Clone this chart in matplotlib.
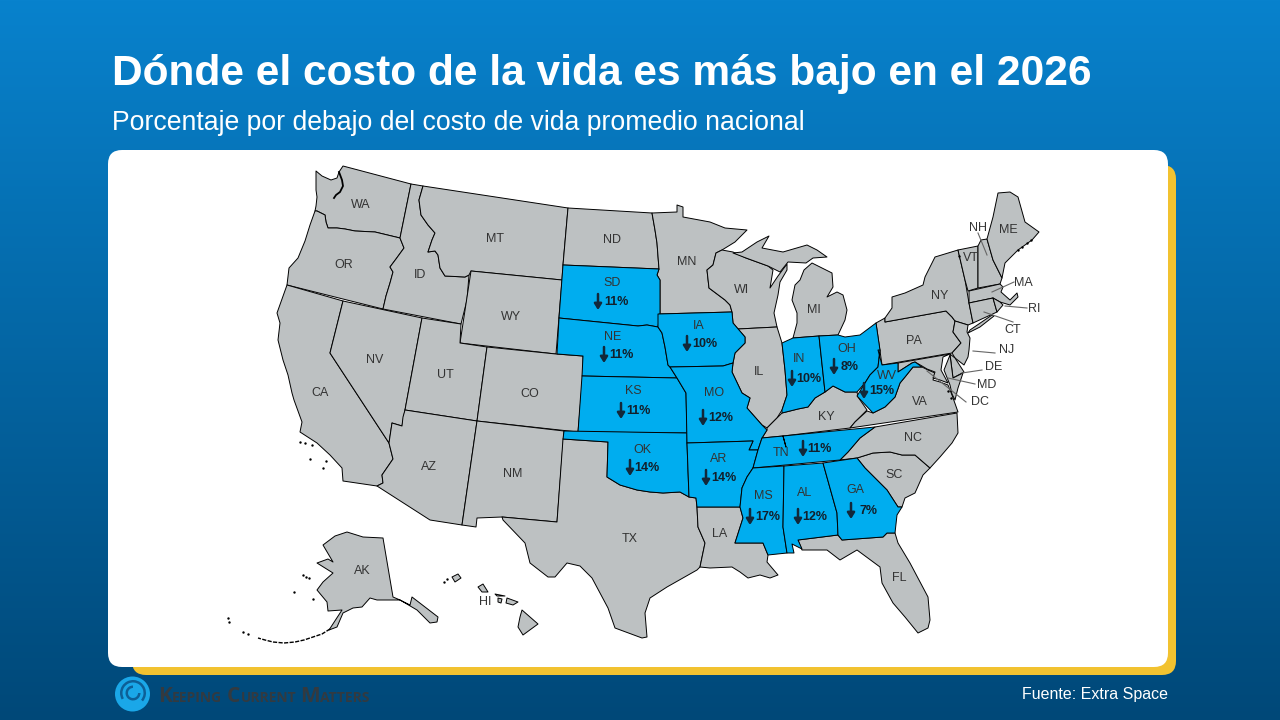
import matplotlib
matplotlib.use("Agg")
import matplotlib.pyplot as plt
import numpy as np
from matplotlib.patches import Circle, FancyBboxPatch, Polygon, Wedge

# state outlines, in picture pixels (no map data offline)
WA = [(316,171),(322,176),(331,180),(337,178),(339,172),(343,166),(411,184),(400,238),(375,232),(355,231),(345,229),(337,228),(328,228),(326,222),(325,215),(317,211),(315,211),(316,206),(317,197),(316,190)]
OR = [(315,211),(317,211),(325,215),(326,222),(328,228),(337,228),(345,229),(355,231),(375,232),(400,238),(404,248),(396,259),(390,267),(393,272),(390,283),(386,296),(383,309),(287,285),(289,268),(298,258),(305,241),(310,225)]
CA = [(287,285),(343,301),(330,353),(389,443),(393,459),(382,475),(383,483),(377,486),(343,481),(342,468),(330,455),(317,443),(300,432),(302,422),(294,400),(292,393),(288,375),(283,360),(278,340),(280,323),(277,313)]
NV = [(343,301),(422,318),(405,410),(402,426),(392,423),(389,443),(330,353)]
ID = [(411,184),(423,186),(419,200),(421,215),(428,225),(435,233),(432,240),(428,252),(435,251),(438,255),(440,268),(445,276),(465,277),(469,275),(467,300),(461,324),(383,309),(386,296),(390,283),(393,272),(390,267),(396,259),(404,248),(400,238)]
MT = [(423,186),(568,208),(563,265),(562,280),(471,271),(469,275),(465,277),(445,276),(440,268),(438,255),(435,251),(428,252),(432,240),(435,233),(428,225),(421,215),(419,200)]
WY = [(471,271),(562,280),(556,354),(460,343)]
UT = [(422,318),(461,324),(460,343),(487,347),(477,421),(405,410)]
CO = [(487,347),(556,354),(583,356),(583,375),(578,432),(477,421)]
AZ = [(405,410),(477,421),(462,525),(430,520),(377,486),(383,483),(382,475),(393,459),(389,443),(392,423),(402,426),(403,417)]
NM = [(477,421),(564,431),(557,522),(502,517),(477,518),(476,527),(462,525)]
ND = [(568,208),(652,213),(655,230),(657,243),(659,269),(563,265)]
SD = [(563,265),(659,269),(657,275),(660,280),(660,313),(658,327),(647,325),(638,326),(559,318)]
NE = [(559,318),(638,326),(647,325),(658,327),(662,333),(665,347),(668,365),(670,367),(677,378),(582,376),(583,356),(557,354)]
KS = [(582,376),(677,378),(686,393),(687,433),(578,432)]
OK = [(564,431),(687,433),(687,443),(689,497),(680,492),(663,493),(650,492),(637,490),(620,485),(607,477),(608,442),(563,439)]
TX = [(563,439),(608,442),(607,477),(620,485),(637,490),(650,492),(663,493),(680,492),(689,497),(696,498),(697,507),(698,527),(705,543),(700,567),(697,570),(667,587),(650,598),(645,613),(647,637),(642,638),(615,628),(608,608),(592,578),(580,566),(567,563),(555,577),(548,577),(530,563),(525,543),(503,520),(502,517),(557,522)]
MN = [(652,213),(677,212),(677,205),(683,207),(683,217),(710,222),(725,228),(747,230),(735,242),(722,250),(716,253),(713,265),(707,270),(709,288),(725,300),(730,305),(732,312),(658,314),(660,313),(660,280),(657,275),(659,269),(657,243),(655,230)]
IA = [(658,314),(732,312),(733,323),(745,337),(745,343),(735,353),(733,363),(723,366),(670,367),(668,365),(665,347),(662,333),(658,327)]
MO = [(670,367),(723,366),(733,363),(732,372),(742,393),(750,398),(747,408),(762,425),(767,430),(762,438),(758,450),(749,450),(753,441),(687,443),(686,393),(677,378)]
AR = [(687,443),(753,441),(749,450),(758,450),(753,468),(747,477),(742,488),(740,507),(697,507),(696,498),(689,497)]
LA = [(697,507),(740,507),(743,518),(735,543),(763,543),(768,555),(767,562),(778,575),(770,578),(760,575),(748,578),(740,572),(732,567),(710,568),(700,567),(705,543),(698,527)]
WI = [(716,253),(722,250),(733,252),(746,258),(768,266),(773,270),(770,288),(778,276),(787,264),(787,270),(780,282),(778,295),(774,313),(777,327),(738,329),(733,323),(732,312),(730,305),(725,300),(709,288),(707,270),(713,265)]
IL = [(738,329),(777,327),(782,343),(785,370),(787,395),(782,410),(777,418),(767,428),(762,425),(747,408),(750,398),(742,393),(732,372),(733,363),(735,353),(745,343),(745,337)]
MI_UP = [(733,253),(742,252),(757,242),(769,236),(762,248),(783,252),(807,245),(817,250),(827,257),(813,258),(806,263),(788,262),(780,272),(772,268),(768,266),(746,258)]
MI_LP = [(793,338),(797,323),(797,313),(792,300),(795,285),(800,280),(804,270),(812,263),(832,273),(833,287),(827,297),(837,292),(843,295),(847,310),(845,320),(838,335),(819,336)]
IN = [(782,343),(793,338),(819,336),(825,392),(815,398),(808,407),(798,409),(782,413),(782,410),(787,395),(785,370)]
OH = [(819,336),(838,335),(845,337),(860,335),(876,323),(880,350),(878,367),(870,375),(865,383),(857,392),(845,392),(833,386),(825,392)]
KY = [(767,428),(777,418),(782,413),(798,409),(808,407),(815,398),(825,392),(833,386),(845,392),(857,392),(858,397),(867,410),(855,422),(850,428),(783,436),(762,438),(767,430)]
TN = [(762,438),(783,436),(786,447),(783,436),(875,427),(860,438),(848,452),(840,460),(753,468),(758,450)]
MS = [(753,468),(784,466),(783,527),(787,553),(768,555),(763,543),(735,543),(743,518),(740,507),(742,488),(747,477)]
AL = [(784,466),(823,463),(837,513),(838,535),(798,540),(802,549),(792,544),(794,553),(787,553),(783,527)]
GA = [(823,463),(857,458),(865,468),(887,490),(898,507),(902,507),(897,515),(895,533),(887,533),(883,537),(842,540),(838,535),(837,513)]
FL = [(798,540),(838,535),(842,540),(883,537),(887,533),(895,533),(898,543),(910,563),(928,597),(930,620),(928,628),(918,633),(905,617),(893,603),(882,583),(880,567),(857,550),(840,560),(827,550),(813,550),(802,550)]
SC = [(857,458),(873,453),(890,452),(902,455),(915,455),(930,468),(923,475),(915,493),(905,498),(902,507),(898,507),(887,490),(865,468)]
NC = [(840,460),(848,452),(860,438),(875,427),(957,413),(958,433),(952,443),(940,457),(930,468),(915,455),(902,455),(890,452),(873,453),(857,458)]
VA = [(850,428),(855,422),(867,411),(873,413),(885,407),(895,397),(900,383),(905,377),(913,367),(922,367),(928,370),(935,373),(933,380),(940,382),(948,385),(952,395),(958,412)]
WV = [(878,350),(882,365),(898,363),(898,372),(912,363),(915,362),(922,367),(913,367),(905,377),(900,383),(895,397),(885,407),(873,413),(857,396),(865,383),(870,375),(878,367),(880,350)]
PA = [(876,323),(885,318),(885,322),(946,311),(952,317),(955,321),(953,332),(961,343),(952,353),(882,365)]
NY = [(885,318),(892,308),(892,297),(905,293),(923,285),(925,277),(935,257),(958,250),(965,280),(969,303),(973,323),(968,325),(955,321),(952,317),(946,311),(885,322)]
LONG_ISLAND = [(970,330),(992,315),(994,316),(980,327),(968,333)]
NJ = [(955,321),(968,325),(967,332),(970,338),(969,350),(968,357),(964,365),(955,358),(952,353),(961,343),(953,332)]
DE = [(950,354),(955,358),(964,372),(953,378)]
MD = [(898,363),(950,354),(943,357),(941,370),(948,383),(940,380),(933,378),(935,372),(927,369),(922,366),(915,362),(912,363),(898,372)]
MD_SHORE = [(950,355),(953,378),(963,373),(958,388),(955,400),(952,394),(950,385),(944,370)]
VT = [(958,250),(978,246),(978,288),(968,291),(965,280)]
NH = [(981,240),(987,239),(993,260),(1002,278),(1000,284),(978,288),(978,246)]
ME = [(987,239),(993,217),(998,193),(1010,192),(1018,197),(1025,222),(1039,232),(1032,240),(1018,250),(1005,263),(1002,278),(993,260)]
MA = [(969,291),(1000,284),(1003,287),(1001,292),(1010,300),(1017,293),(1018,297),(1010,305),(1000,302),(993,298),(969,303)]
CT = [(969,303),(993,298),(997,312),(973,323)]
RI = [(993,298),(1000,302),(1003,305),(997,312)]
AK = [(383,538),(393,597),(400,600),(410,605),(412,597),(438,617),(437,622),(430,623),(417,610),(400,600),(388,600),(377,600),(370,598),(362,607),(353,608),(343,613),(337,627),(329,630),(342,610),(328,611),(327,602),(317,590),(323,582),(333,573),(317,563),(328,559),(333,562),(323,545),(335,536),(347,532),(363,537)]
HI_1 = [(522,610),(538,624),(523,635),(518,627),(520,617)]
HI_2 = [(507,598),(518,602),(513,605),(506,603)]
HI_3 = [(495,594),(505,596),(497,596)]
HI_4 = [(478,587),(483,584),(488,592),(482,592)]
HI_5 = [(452,577),(458,574),(461,578),(455,582)]
HI_6 = [(498,598),(502,599),(501,603),(498,602)]

# thin chains and specks along the coasts
aleutians_x = [330, 322, 313, 304, 295, 284, 273, 265, 258]
aleutians_y = [629, 634, 637, 640, 642, 643, 642, 640, 638]
puget_x = [339, 342, 343, 340, 336, 334]
puget_y = [172, 180, 186, 192, 195, 198]
specks_x = [228, 229, 243, 248, 300, 305, 312, 310, 326, 323, 303, 306, 309, 313, 294, 1018, 1022, 1027, 1031, 959, 948, 951, 444, 447]
specks_y = [618, 622, 632, 634, 442, 443, 445, 459, 461, 468, 575, 577, 578, 599, 592, 250, 247, 243, 240, 256, 391, 398, 582, 579]

state_names = ["WA", "OR", "CA", "NV", "ID", "MT", "WY", "UT", "CO", "AZ", "NM", "TX", "ND", "SD", "NE", "KS", "OK",
               "MN", "IA", "MO", "AR", "LA", "WI", "IL", "MI", "IN", "OH", "KY", "TN", "MS", "AL", "GA", "FL", "SC",
               "NC", "VA", "WV", "PA", "NY", "ME", "VT", "NH", "MA", "RI", "CT", "NJ", "DE", "MD", "DC", "AK", "HI"]
label_x = [361, 344, 320, 375, 420, 495, 511, 445, 530, 429, 513, 630, 612, 612, 613, 633, 642,
           687, 699, 714, 719, 720, 742, 759, 814, 799, 847, 826, 781, 763, 805, 855, 899, 894,
           913, 920, 887, 914, 940, 1008, 971, 978, 1023, 1034, 1013, 1007, 994, 987, 980, 362, 485]
label_y = [205, 265, 393, 360, 275, 239, 317, 375, 394, 467, 474, 539, 240, 283, 337, 391, 450,
           262, 326, 393, 459, 534, 290, 372, 310, 359, 349, 417, 453, 496, 493, 490, 578, 475,
           438, 402, 376, 341, 296, 230, 258, 228, 283, 309, 330, 350, 367, 385, 402, 571, 602]

gray_shapes = [WA, OR, CA, NV, ID, MT, WY, UT, CO, AZ, NM, TX, ND, MN, LA, WI, IL, MI_UP, MI_LP, KY, FL, SC, NC, VA,
               PA, NY, LONG_ISLAND, NJ, DE, MD, MD_SHORE, VT, NH, ME, MA, CT, RI, AK, HI_1, HI_2, HI_3, HI_4, HI_5, HI_6]
blue_shapes = [SD, NE, KS, OK, IA, MO, AR, IN, OH, TN, MS, AL, GA, WV]

# percent below the national average
pct_values = [11, 11, 10, 11, 12, 14, 14, 10, 8, 15, 11, 17, 12, 7]
arrow_x = [598, 604, 687, 621, 703, 630, 706, 792, 834, 864, 803, 750, 798, 851]
pct_left = [604, 609, 692, 626, 708, 634, 711, 796, 841, 869, 807, 755, 802, 859]
pct_y = [302, 355, 344, 411, 418, 468, 478, 379, 367, 391, 449, 517, 517, 511]

leader_from = [(978, 233), (1014, 282), (1027, 308), (1013, 322), (995, 353), (982, 370), (975, 384), (966, 402)]
leader_to = [(987, 255), (992, 292), (1005, 306), (984, 312), (973, 351), (962, 373), (948, 378), (927, 371)]

FONT = "Liberation Sans"
GRAY = "#bdc1c2"
BLUE = "#00adef"

fig = plt.figure(figsize=(12.8, 7.2), dpi=100)
ax = fig.add_axes([0, 0, 1, 1])

# background gradient
top = np.array([8, 130, 205]) / 255
bottom = np.array([0, 72, 120]) / 255
t = np.linspace(0, 1, 720)[:, None, None]
ax.imshow(top + (bottom - top) * t, extent=(0, 1280, 720, 0), aspect="auto", zorder=0)
ax.set_xlim(0, 1280)
ax.set_ylim(720, 0)
ax.axis("off")

ax.add_patch(FancyBboxPatch((146, 179), 1016, 482, boxstyle="round,pad=14,rounding_size=14",
                            fc="#f2c230", ec="none", zorder=1))
ax.add_patch(FancyBboxPatch((122, 164), 1032, 489, boxstyle="round,pad=14,rounding_size=14",
                            fc="white", ec="none", zorder=2))

for shape in gray_shapes:
    ax.add_patch(Polygon(shape, closed=True, fc=GRAY, ec="black", lw=0.7, joinstyle="round", zorder=3))
for shape in blue_shapes:
    ax.add_patch(Polygon(shape, closed=True, fc=BLUE, ec="black", lw=0.7, joinstyle="round", zorder=4))

ax.plot(aleutians_x, aleutians_y, color="black", lw=1, ls=(0, (3, 1)), zorder=4)
ax.plot(puget_x, puget_y, color="black", lw=1.3, zorder=5)
ax.scatter(specks_x, specks_y, s=3, color="black", lw=0, zorder=5)

for start, end in zip(leader_from, leader_to):
    ax.plot([start[0], end[0]], [start[1], end[1]], color="#666666", lw=0.8, zorder=5)

for name, x, y in zip(state_names, label_x, label_y):
    ax.text(x, y, name, family=FONT, fontsize=9, color="#333333", ha="center", va="center", zorder=6)

for value, x, left, y in zip(pct_values, arrow_x, pct_left, pct_y):
    ax.annotate("", xy=(x, y + 8), xytext=(x, y - 8), zorder=6,
                arrowprops=dict(arrowstyle="-|>,head_length=0.35,head_width=0.22", color="#12283a",
                                lw=1.8, shrinkA=0, shrinkB=0))
    ax.text(left, y, f"{value}%", family=FONT, fontsize=9, weight="bold", color="#12202c",
            ha="left", va="center", zorder=6)

ax.text(112, 74, "Dónde el costo de la vida es más bajo en el 2026", family=FONT, fontsize=30.6, weight="bold",
        color="white", ha="left", va="center", zorder=6)
ax.text(112, 123, "Porcentaje por debajo del costo de vida promedio nacional", family=FONT, fontsize=19.2,
        color="white", ha="left", va="center", zorder=6)
ax.text(1168, 695, "Fuente: Extra Space", family=FONT, fontsize=11.5, color="white", ha="right", va="center", zorder=6)

# logo
ax.add_patch(Circle((132.5, 694), 17.5, fc="#1aa7e8", ec="none", zorder=6))
ax.add_patch(Wedge((133, 693), 13, 150, 400, width=2.5, fc="#0d5f97", ec="none", zorder=7))
ax.add_patch(Wedge((133, 693), 7.5, 0, 270, width=2.5, fc="#0d5f97", ec="none", zorder=7))
logo_pieces = ["K", "EEPING", "C", "URRENT", "M", "ATTERS"]
logo_x = [158, 172, 227, 241, 300, 320]
logo_size = [15, 10, 15, 10, 15, 10]
for piece, x, size in zip(logo_pieces, logo_x, logo_size):
    ax.text(x, 702, piece, family="Open Sans", fontsize=size, weight="bold", color="#333a40",
            ha="left", va="baseline", zorder=6)

fig.savefig("out.png", dpi=100)
